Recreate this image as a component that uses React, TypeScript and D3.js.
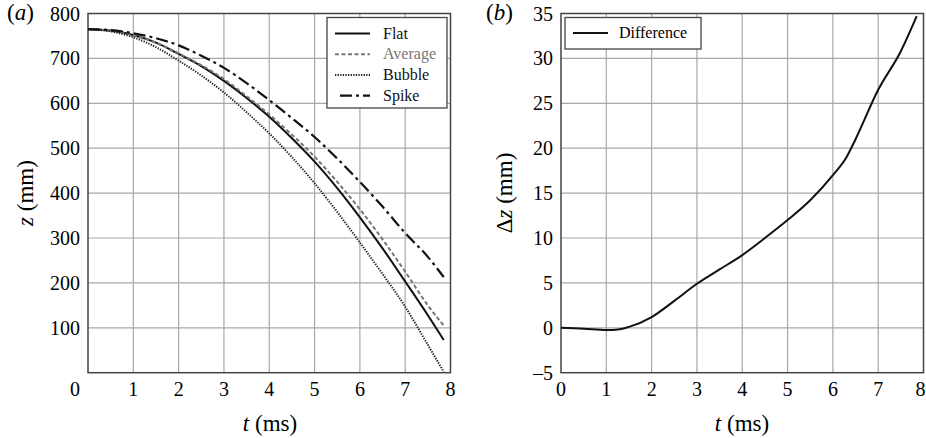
import React, { useEffect, useRef } from 'react';
import * as d3 from 'd3';

// time samples (ms)
const times = [0, 0.5, 1, 1.5, 2, 2.5, 3, 3.5, 4, 4.5, 5, 5.5, 6, 6.5, 7, 7.5, 7.85];

// z (mm) per interface shape
const flat = [765, 762, 752, 735, 710, 683, 650, 612, 570, 522, 470, 411, 346, 277, 203, 128, 73];
const average = [765, 762, 752, 735, 711, 685, 654, 616, 575, 530, 481, 425, 364, 297, 225, 150, 105];
const bubble = [765, 760, 747, 725, 695, 662, 624, 580, 533, 480, 422, 358, 290, 220, 147, 62, 2];
const spike = [765, 763, 756, 745, 729, 706, 679, 645, 607, 567, 525, 477, 425, 370, 311, 258, 213];

// difference (mm)
const diffTimes = [0, 0.5, 1, 1.3, 1.5, 2, 2.5, 3, 3.5, 4, 4.5, 5, 5.5, 6, 6.3, 6.5, 7, 7.5, 7.85];
const difference = [0, -0.1, -0.25, -0.15, 0.1, 1.2, 3, 4.9, 6.5, 8.1, 10, 12, 14.2, 17, 19, 21, 26.5, 30.8, 34.7];

const leftYTicks = [100, 200, 300, 400, 500, 600, 700, 800];
const rightYTicks = [-5, 0, 5, 10, 15, 20, 25, 30, 35];
const xTicks = [0, 1, 2, 3, 4, 5, 6, 7, 8];

const seriesNames = ['Flat', 'Average', 'Bubble', 'Spike'];

const FONT = "'Liberation Serif', 'DejaVu Serif', serif";

const App = () => {
  const svgRef = useRef<SVGSVGElement>(null);

  useEffect(() => {
    const svg = d3.select(svgRef.current);
    svg.selectAll('*').remove();

    const top = 13.5, bottom = 372.7;

    const drawPanel = (left: number, right: number, yDomain: [number, number], yTicks: number[]) => {
      const x = d3.scaleLinear().domain([0, 8]).range([left, right]);
      const y = d3.scaleLinear().domain(yDomain).range([bottom, top]);
      const g = svg.append('g');

      g.selectAll('line.vg')
        .data(xTicks.slice(1, -1))
        .join('line')
        .attr('x1', d => x(d)).attr('x2', d => x(d))
        .attr('y1', top).attr('y2', bottom)
        .attr('stroke', '#a8a8a8').attr('stroke-width', 1.2);

      g.selectAll('line.hg')
        .data(yTicks.filter(d => d > yDomain[0] && d < yDomain[1]))
        .join('line')
        .attr('x1', left).attr('x2', right)
        .attr('y1', d => y(d)).attr('y2', d => y(d))
        .attr('stroke', '#a8a8a8').attr('stroke-width', 1.2);

      g.append('rect')
        .attr('x', left).attr('y', top)
        .attr('width', right - left).attr('height', bottom - top)
        .attr('fill', 'none').attr('stroke', '#444').attr('stroke-width', 1.5);

      g.selectAll('text.yt')
        .data(yTicks)
        .join('text')
        .attr('x', left - 8)
        .attr('y', d => y(d) + 7)
        .attr('text-anchor', 'end')
        .style('font-family', FONT).style('font-size', '20px')
        .text(d => (d < 0 ? '\u2013' + Math.abs(d) : String(d)));

      return { x, y, g };
    };

    // Panel (a)
    const a = drawPanel(88, 450.5, [0, 800], leftYTicks);
    a.g.selectAll('text.xt')
      .data(xTicks)
      .join('text')
      .attr('x', d => (d === 0 ? a.x(d) - 13 : a.x(d)))
      .attr('y', 396)
      .attr('text-anchor', 'middle')
      .style('font-family', FONT).style('font-size', '20px')
      .text(d => String(d));

    const styles = [
      { data: flat, color: '#111', dash: null, width: 2 },
      { data: average, color: '#777', dash: '4,2.5', width: 2 },
      { data: bubble, color: '#222', dash: '1.3,1.3', width: 2 },
      { data: spike, color: '#111', dash: '12,4,3,4', width: 2.2 },
    ];

    const lineA = d3.line<number>()
      .x((_, i) => a.x(times[i]))
      .y(d => a.y(d))
      .curve(d3.curveMonotoneX);

    styles.forEach(s => {
      a.g.append('path')
        .attr('d', lineA(s.data))
        .attr('fill', 'none')
        .attr('stroke', s.color)
        .attr('stroke-width', s.width)
        .attr('stroke-dasharray', s.dash);
    });

    // legend (a)
    const legA = a.g.append('g');
    legA.append('rect')
      .attr('x', 327).attr('y', 17.5).attr('width', 120).attr('height', 90.5)
      .attr('fill', 'white').attr('stroke', '#444').attr('stroke-width', 1.3);
    seriesNames.forEach((name, i) => {
      const yy = 33.5 + i * 20.7;
      legA.append('line')
        .attr('x1', i === 3 ? 340 : 335).attr('x2', 370)
        .attr('y1', yy).attr('y2', yy)
        .attr('stroke', styles[i].color)
        .attr('stroke-width', styles[i].width)
        .attr('stroke-dasharray', styles[i].dash);
      legA.append('text')
        .attr('x', 383).attr('y', yy + 5)
        .style('font-family', FONT).style('font-size', '16px')
        .attr('fill', i === 1 ? '#777' : '#111')
        .text(name);
    });

    // axis titles (a)
    const ta = a.g.append('text')
      .attr('transform', 'translate(33,193) rotate(-90)')
      .attr('text-anchor', 'middle')
      .style('font-family', FONT).style('font-size', '23px');
    ta.append('tspan').attr('font-style', 'italic').text('z');
    ta.append('tspan').text(' (mm)');

    const xa = a.g.append('text')
      .attr('x', 270).attr('y', 431)
      .attr('text-anchor', 'middle')
      .style('font-family', FONT).style('font-size', '23px');
    xa.append('tspan').attr('font-style', 'italic').text('t');
    xa.append('tspan').text(' (ms)');

    const la = a.g.append('text')
      .attr('x', 7).attr('y', 20)
      .style('font-family', FONT).style('font-size', '23px');
    la.append('tspan').text('(');
    la.append('tspan').attr('font-style', 'italic').text('a');
    la.append('tspan').text(')');

    // Panel (b)
    const b = drawPanel(561, 923.5, [-5, 35], rightYTicks);
    b.g.selectAll('text.xt')
      .data(xTicks)
      .join('text')
      .attr('x', d => (d === 8 ? b.x(d) - 3 : b.x(d)))
      .attr('y', 396)
      .attr('text-anchor', 'middle')
      .style('font-family', FONT).style('font-size', '20px')
      .text(d => String(d));

    const lineB = d3.line<number>()
      .x((_, i) => b.x(diffTimes[i]))
      .y(d => b.y(d))
      .curve(d3.curveMonotoneX);

    b.g.append('path')
      .attr('d', lineB(difference))
      .attr('fill', 'none')
      .attr('stroke', '#111')
      .attr('stroke-width', 2);

    const legB = b.g.append('g');
    legB.append('rect')
      .attr('x', 565).attr('y', 17.5).attr('width', 136).attr('height', 31.5)
      .attr('fill', 'white').attr('stroke', '#444').attr('stroke-width', 1.3);
    legB.append('line')
      .attr('x1', 573).attr('x2', 608).attr('y1', 33).attr('y2', 33)
      .attr('stroke', '#111').attr('stroke-width', 2);
    legB.append('text')
      .attr('x', 619).attr('y', 38)
      .style('font-family', FONT).style('font-size', '16px')
      .text('Difference');

    const tb = b.g.append('text')
      .attr('transform', 'translate(512,193) rotate(-90)')
      .attr('text-anchor', 'middle')
      .style('font-family', FONT).style('font-size', '23px');
    tb.append('tspan').text('\u0394');
    tb.append('tspan').attr('font-style', 'italic').text('z');
    tb.append('tspan').text(' (mm)');

    const xb = b.g.append('text')
      .attr('x', 742).attr('y', 431)
      .attr('text-anchor', 'middle')
      .style('font-family', FONT).style('font-size', '23px');
    xb.append('tspan').attr('font-style', 'italic').text('t');
    xb.append('tspan').text(' (ms)');

    const lb = b.g.append('text')
      .attr('x', 486).attr('y', 20)
      .style('font-family', FONT).style('font-size', '23px');
    lb.append('tspan').text('(');
    lb.append('tspan').attr('font-style', 'italic').text('b');
    lb.append('tspan').text(')');
  }, []);

  return (
    <svg
      ref={svgRef}
      width={926}
      height={438}
      style={{ position: 'absolute', left: 0, top: 0, background: 'white' }}
    />
  );
};

export default App;
